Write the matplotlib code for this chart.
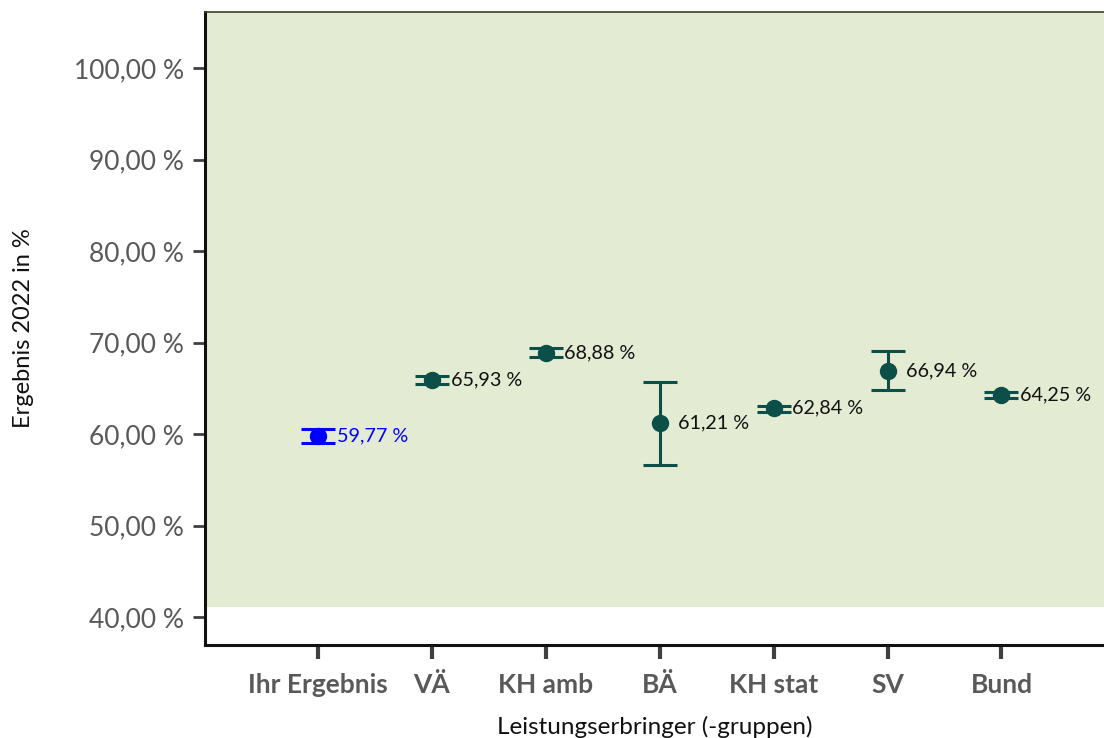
import matplotlib
matplotlib.use("Agg")
import matplotlib.pyplot as plt

# Ergebnisse je Leistungserbringergruppe mit Konfidenzintervall
groups = ["Ihr Ergebnis", "VÄ", "KH amb", "BÄ", "KH stat", "SV", "Bund"]
values = [59.77, 65.93, 68.88, 61.21, 62.84, 66.94, 64.25]
ci_low = [59.00, 65.43, 68.37, 56.60, 62.43, 64.84, 63.90]
ci_high = [60.57, 66.36, 69.39, 65.64, 63.09, 69.06, 64.62]
yticks = [40, 50, 60, 70, 80, 90, 100]
band_low = 41.1

plt.rcParams["font.family"] = ["Lato", "DejaVu Sans"]

fig = plt.figure(figsize=(11.04, 7.38), dpi=100)
ax = fig.add_axes([0.1857, 0.126, 0.8143, 0.8577])

ax.set_xlim(-0.99, 6.9)
ax.set_ylim(36.94, 106.12)
ax.axhspan(band_low, 106.12, color="#e3ebd3", zorder=0, lw=0)

dark = "#0b4f48"
for i, (g, v, lo, hi) in enumerate(zip(groups, values, ci_low, ci_high)):
    col = "#0000ff" if i == 0 else dark
    ax.errorbar(i, v, yerr=[[v - lo], [hi - v]], fmt="o", color=col,
                ms=11.5, elinewidth=2.2, capsize=12.5, capthick=2.2, zorder=3)
    ax.text(i + 0.165, v, f"{v:.2f} %".replace(".", ","), color="#0000ff" if i == 0 else "#111111",
            fontsize=14.2, va="center", ha="left", zorder=4)

ax.set_xticks(range(len(groups)))
ax.set_xticklabels(groups, fontsize=19, fontweight="bold", color="#595959")
ax.set_yticks(yticks)
ax.set_yticklabels([f"{t:.2f} %".replace(".", ",") for t in yticks], fontsize=19, color="#595959")
ax.tick_params(axis="x", length=10, width=3, color="#404040", pad=10)
ax.tick_params(axis="y", length=9, width=2, color="#404040", pad=6)

for s in ["left", "bottom"]:
    ax.spines[s].set_linewidth(2.2)
    ax.spines[s].set_color("#111111")
ax.spines["right"].set_visible(False)
ax.spines["top"].set_color("#3b4128")
ax.spines["top"].set_linewidth(1.2)

ax.set_xlabel("Leistungserbringer (-gruppen)", fontsize=17.5, color="#111111", labelpad=14)
ax.set_ylabel("Ergebnis 2022 in %", fontsize=17, color="#111111", labelpad=29)

fig.savefig("out.png", dpi=100)
